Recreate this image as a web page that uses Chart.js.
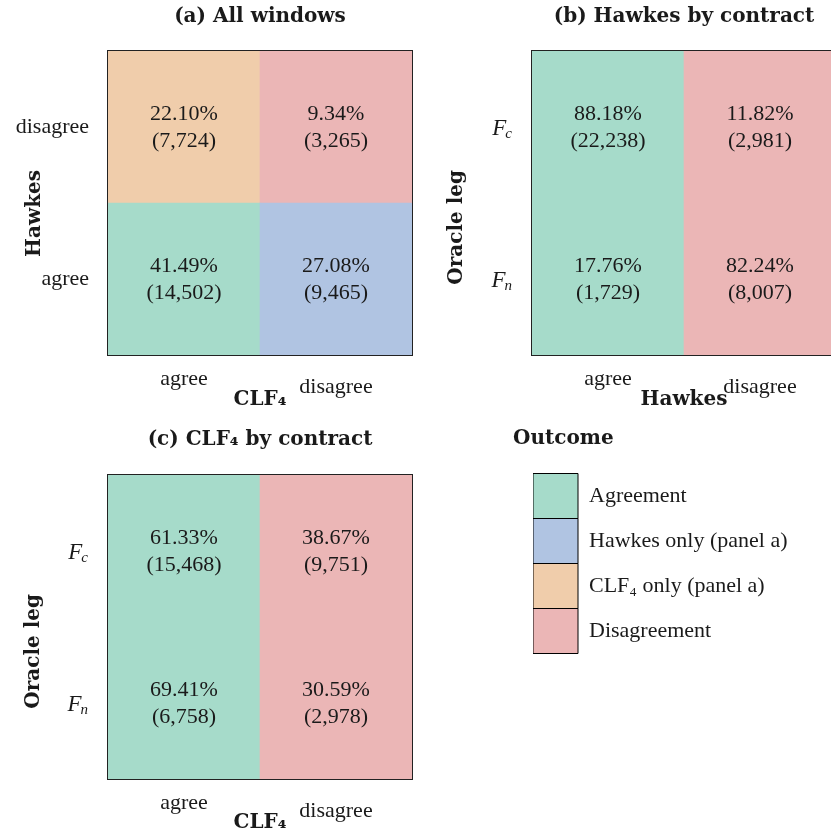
<!DOCTYPE html>
<html><head><meta charset="utf-8">
<script src="https://cdn.jsdelivr.net/npm/chart.js@4/dist/chart.umd.min.js"></script>
<style>
html,body{margin:0;padding:0;background:#fff;overflow:hidden;width:831px;height:835px;}
canvas{position:absolute;}
</style></head><body>
<canvas id="ca" width="420" height="418" style="left:0;top:0"></canvas>
<canvas id="cb" width="420" height="418" style="left:420px;top:0"></canvas>
<canvas id="cc" width="420" height="417" style="left:0;top:418px"></canvas>
<canvas id="cl" width="351" height="300" style="left:480px;top:418px"></canvas>
<script>
// ---------- data ----------
const outcomeNames = ['Agreement', 'Hawkes only (panel a)', 'CLF\u2084 only (panel a)', 'Disagreement'];
const outcomeColors = ['#a6dbca', '#b0c4e2', '#f0cdab', '#ebb6b6'];

// panel (a): rows listed bottom -> top
const aXLabels = ['agree', 'disagree'];          // CLF4
const aYLabels = ['agree', 'disagree'];          // Hawkes
const aPct    = [[41.49, 27.08], [22.10, 9.34]];
const aCount  = [[14502, 9465], [7724, 3265]];
const aOutcome = [[0, 1], [2, 3]];

// panel (b)
const bXLabels = ['agree', 'disagree'];          // Hawkes
const bYLabels = ['F_n', 'F_c'];                 // Oracle leg
const bPct    = [[17.76, 82.24], [88.18, 11.82]];
const bCount  = [[1729, 8007], [22238, 2981]];
const bOutcome = [[0, 3], [0, 3]];

// panel (c)
const cXLabels = ['agree', 'disagree'];          // CLF4
const cYLabels = ['F_n', 'F_c'];                 // Oracle leg
const cPct    = [[69.41, 30.59], [61.33, 38.67]];
const cCount  = [[6758, 2978], [15468, 9751]];
const cOutcome = [[0, 3], [0, 3]];

// ---------- style ----------
const SERIF = "'Liberation Serif', 'DejaVu Serif', serif";
const BOLD = "'DejaVu Serif', serif";
const INK = '#1a1a1a';
const NB = '\u00a0';

function fmtCount(n) { return String(n).replace(/\B(?=(\d{3})+(?!\d))/g, ','); }

function makePanel(id, P) {
  const cellPlugin = {
    id: 'cells',
    afterDatasetsDraw(chart) {
      const ctx = chart.ctx;
      ctx.save();
      ctx.font = "22px " + SERIF;
      ctx.fillStyle = INK;
      ctx.textAlign = 'center';
      ctx.textBaseline = 'alphabetic';
      chart.data.datasets.forEach((ds, r) => {
        chart.getDatasetMeta(r).data.forEach((el, c) => {
          const cx = el.x, cy = (el.y + el.base) / 2;
          ctx.fillText(P.pct[r][c].toFixed(2) + '%', cx, cy - 7);
          ctx.fillText('(' + fmtCount(P.count[r][c]) + ')', cx, cy + 20);
        });
      });
      const a = chart.chartArea;
      ctx.strokeStyle = '#222';
      ctx.lineWidth = 1;
      ctx.strokeRect(a.left - 0.5, a.top - 0.5, a.right - a.left + 1, a.bottom - a.top + 1);
      if (P.math) {
        const ys = chart.scales.y;
        ys.ticks.forEach((t, i) => {
          const py = ys.getPixelForValue(t.value);
          const parts = P.yLabels[i].split('_');
          const right = a.left - 20;
          ctx.textAlign = 'left';
          ctx.font = "italic 15px " + SERIF;
          const wS = ctx.measureText(parts[1]).width;
          ctx.font = "italic 23px " + SERIF;
          const wF = ctx.measureText(parts[0]).width;
          const sx = right - wS;
          ctx.fillText(parts[0], sx - wF + 1, py + 8);
          ctx.font = "italic 15px " + SERIF;
          ctx.fillText(parts[1], sx, py + 11);
        });
      }
      ctx.restore();
    }
  };
  return new Chart(document.getElementById(id), {
    type: 'bar',
    data: {
      labels: P.xLabels,
      datasets: P.yLabels.map((yl, r) => ({
        label: yl,
        data: P.xLabels.map(() => 1),
        backgroundColor: P.outcome[r].map(o => outcomeColors[o]),
        borderWidth: 0,
        barPercentage: 1,
        categoryPercentage: 1
      }))
    },
    options: {
      responsive: false,
      animation: false,
      devicePixelRatio: 1,
      layout: { padding: { left: 0, right: P.padRight, top: 0, bottom: 0 } },
      plugins: {
        legend: { display: false },
        tooltip: { enabled: false },
        title: {
          display: true, text: P.title, fullSize: false, color: INK,
          font: { family: BOLD, size: 20, weight: 'bold', lineHeight: 1.2 },
          padding: { top: P.tTop, bottom: P.tBot }
        }
      },
      scales: {
        x: {
          stacked: true,
          grid: { display: false, drawTicks: false },
          border: { display: false },
          ticks: {
            padding: 11, color: INK, maxRotation: 0,
            font: (ctx) => ({ family: SERIF, size: 22, lineHeight: ctx.index === 1 ? 1.95 : 1.2 })
          },
          title: {
            display: true, text: P.xTitle, color: INK,
            font: { family: BOLD, size: 20, weight: 'bold', lineHeight: 1.2 },
            padding: { top: 0, bottom: P.xtBot }
          },
          afterFit: (s) => { s.height = P.xh; }
        },
        y: {
          stacked: true, min: 0, max: 2,
          afterBuildTicks: (s) => { s.ticks = P.yLabels.map((_, i) => ({ value: i + 0.5 })); },
          grid: { display: false, drawTicks: false },
          border: { display: false },
          ticks: {
            display: !P.math, padding: 19, color: INK,
            font: { family: SERIF, size: 22, lineHeight: 1.2 },
            callback: (v, i) => P.yLabels[i]
          },
          title: {
            display: true, text: P.yTitle, color: INK,
            font: { family: BOLD, size: 20, weight: 'bold', lineHeight: 1.2 },
            padding: { top: P.ytTop, bottom: 0 }
          },
          afterFit: (s) => { s.width = P.yw; }
        }
      }
    },
    plugins: [cellPlugin]
  });
}

makePanel('ca', {
  xLabels: aXLabels, yLabels: aYLabels, pct: aPct, count: aCount, outcome: aOutcome,
  title: '(a) All windows', xTitle: 'CLF\u2084', yTitle: 'Hawkes' + NB + NB + NB, math: false,
  padRight: 8, tTop: 5.1, tBot: 21.9, xh: 63, xtBot: 6.4, yw: 108, ytTop: 22.5
});
makePanel('cb', {
  xLabels: bXLabels, yLabels: bYLabels, pct: bPct, count: bCount, outcome: bOutcome,
  title: '(b) Hawkes by contract', xTitle: 'Hawkes', yTitle: 'Oracle leg' + NB.repeat(7), math: true,
  padRight: 4, tTop: 5.1, tBot: 21.9, xh: 63, xtBot: 6.4, yw: 112, ytTop: 25
});
makePanel('cc', {
  xLabels: cXLabels, yLabels: cYLabels, pct: cPct, count: cCount, outcome: cOutcome,
  title: '(c) CLF\u2084 by contract', xTitle: 'CLF\u2084', yTitle: 'Oracle leg' + NB.repeat(7), math: true,
  padRight: 8, tTop: 9.6, tBot: 23.4, xh: 56, xtBot: 0, yw: 108, ytTop: 22
});

// ---------- legend ----------
new Chart(document.getElementById('cl'), {
  type: 'bar',
  data: { labels: [], datasets: [] },
  options: {
    responsive: false, animation: false, devicePixelRatio: 1,
    layout: { padding: { left: 33, top: 0, right: 0, bottom: 0 } },
    scales: {
      x: { display: false },
      y: { display: true, ticks: { display: false }, grid: { display: false, drawTicks: false }, border: { display: false },
           afterFit: (s) => { s.width = 20; } }
    },
    plugins: {
      tooltip: { enabled: false },
      title: {
        display: true, text: 'Outcome', align: 'start', color: INK,
        font: { family: BOLD, size: 20, weight: 'bold', lineHeight: 1.2 },
        padding: { top: 8.5, bottom: 23 }
      },
      legend: {
        position: 'chartArea', align: 'start',
        title: { display: true, text: '', color: INK, font: { size: 20, lineHeight: 1.2 }, padding: { top: 31.5, bottom: 0 } },
        labels: {
          boxWidth: 45, boxHeight: 45, padding: 0, color: INK,
          font: { family: SERIF, size: 22 },
          generateLabels: () => outcomeNames.map((n, i) => ({
            text: n, fillStyle: outcomeColors[i], strokeStyle: '#000', fontColor: INK,
            lineWidth: 1, hidden: false, datasetIndex: i
          }))
        }
      }
    }
  }
});
</script>
</body></html>
